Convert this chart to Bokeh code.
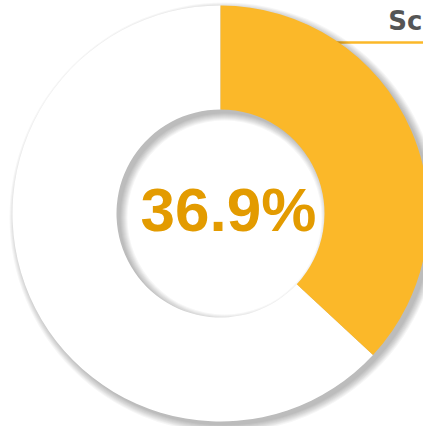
from bokeh.plotting import figure
from bokeh.models import Range1d
from bokeh.core.properties import value
from bokeh.embed import file_html
from bokeh.resources import INLINE
import math

# data
percent = 36.9
label = "36.9%"
title = "Sc"

W, H = 423, 426
cx, cy = 220, 213
r_out, r_in = 208, 104

p = figure(width=W, height=H, output_backend="svg", toolbar_location=None,
           x_range=Range1d(0, W), y_range=Range1d(0, H), min_border=0)
p.axis.visible = False
p.grid.visible = False
p.outline_line_color = None
p.background_fill_color = "white"
p.border_fill_color = "white"

# title line (behind the donut)
p.line([300, W], [H - 42, H - 42], line_color="#FBB829", line_width=2.5)
p.text([422], [H - 20], text=[title], text_font=value("DejaVu Sans"),
       text_font_style="bold", text_font_size="26px", text_color="#555555",
       text_baseline="alphabetic", text_align="right")

# drop shadow (blurred, offset down-right)
ox, oy = 4, -4
for k in range(0, 8):
    p.annulus(x=[cx + ox], y=[cy + oy], inner_radius=r_in - k, outer_radius=r_out + k,
              fill_color="#000000", fill_alpha=0.035, line_color=None)

start = math.pi / 2
end = start - 2 * math.pi * percent / 100.0
# white remainder
p.annular_wedge(x=[cx], y=[cy], inner_radius=r_in, outer_radius=r_out,
                start_angle=end, end_angle=start, direction="clock",
                fill_color="white", line_color=None)
p.annular_wedge(x=[cx], y=[cy], inner_radius=r_in, outer_radius=r_out,
                start_angle=start, end_angle=end, direction="clock",
                fill_color="#FBB829", line_color=None)

p.text([228], [H - 209], text=[label], text_font=value("Liberation Sans"),
       text_font_style="bold", text_font_size="62px", text_color="#E39B00",
       text_baseline="alphabetic", text_align="center")

open("out.html", "w").write(file_html(p, INLINE))
